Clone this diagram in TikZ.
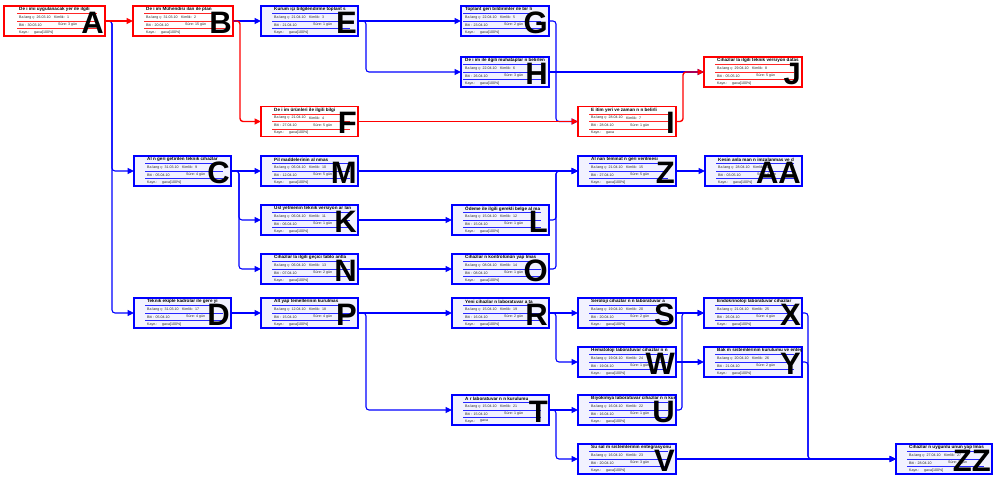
\documentclass[tikz,border=0pt]{standalone}
\usepackage{fontspec}
\setmainfont{Liberation Sans}
\usetikzlibrary{arrows.meta}

\tikzset{
  taskbox/.style={draw, minimum height=30pt, inner sep=0pt, outer sep=0pt, anchor=north west},
  redtask/.style={taskbox, draw=red, fill=white, line width=1.8pt},
  bluetask/.style={taskbox, draw=blue, fill=blue!5, line width=1.3pt},
  tasktitle/.style={anchor=west, inner sep=0pt, font=\fontsize{4.6}{5}\selectfont\bfseries, text=black},
  taskfield/.style={anchor=west, inner sep=0pt, font=\fontsize{3.6}{4}\selectfont, text=black!85},
  taskletter/.style={anchor=base east, inner sep=0pt, font=\fontsize{31}{31}\selectfont\bfseries, text=black},
  rowrule/.style={line width=1.2pt},
  link/.style={line width=1.1pt, rounded corners=3pt, -{Triangle[length=6.5pt,width=6pt]}},
  bluelink/.style={link, draw=blue},
  redlink/.style={link, draw=red, line width=1.4pt},
}

% #1 name, #2 box left, #3 content left, #4 top, #5 right, #6 colour (red/blue)
\newcommand\taskbox[6]{%
  \def\tcol{#6}%
  \node[#6task, minimum width={(#5-#2)*1pt}] (#1) at (#2,#4) {};
  \coordinate (#1-c) at (#3,#4);
}

% #1 name, #2 title, #3 start, #4 id, #5 end, #6 duration, #7 resource, #8 letter
\newcommand\taskinfo[8]{%
  \begin{scope}
    \clip ([shift={(1,1)}]#1.north west) rectangle ([shift={(-1,-1)}]#1.south east);
    \node[tasktitle] (#1-t) at ([shift={(13,3.8)}]#1-c) {#2};
  \end{scope}
  \foreach \dy in {7.6,15.1,22.6}
    \draw[rowrule, draw=\tcol!85] ([shift={(11,\dy)}]#1-c) -- ([shift={(-8,\dy)}]#1.north east);
  \node[taskfield] (#1-s) at ([shift={(13,11.4)}]#1-c) {Ba lang ç: #3};
  \node[taskfield] (#1-k) at ([shift={(48,11.4)}]#1-c) {Kimlik: \ #4};
  \node[taskfield] (#1-e) at ([shift={(13,18.9)}]#1-c) {Biti : #5};
  \node[taskfield] (#1-d) at ([shift={(52,18.9)}]#1-c) {Süre: #6};
  \node[taskfield] (#1-r) at ([shift={(13,26.2)}]#1-c) {Kayn.:};
  \node[taskfield] (#1-v) at ([shift={(28,26.2)}]#1-c) {#7};
  \node[taskletter] (#1-l) at ([shift={(-1,27)}]#1.north east) {#8};
}

\begin{document}
\begin{tikzpicture}[x=1pt,y=-1pt]
\useasboundingbox (0,0) rectangle (993,477);

% ---- tasks ----
\taskbox{A}{4}{6}{6}{105}{red}
\taskinfo{A}{De i imi uygulanacak yer ile ilgili}{26.03.10}{1}{30.03.10}{3 gün}{gaxa[100\%]}{A}
\taskbox{B}{133}{133}{6}{233}{red}
\taskinfo{B}{De i im Mühendisi  ilan  ile plan}{31.03.10}{2}{20.04.10}{15 gün}{gaxa[100\%]}{B}
\taskbox{E}{261}{261}{6}{358}{blue}
\taskinfo{E}{Kurum içi bilgilendirme toplant s }{21.04.10}{3}{21.04.10}{1 gün}{gaxa[100\%]}{E}
\taskbox{G}{461}{452}{6}{549}{blue}
\taskinfo{G}{Toplant  geri bildirimler ile bir li}{22.04.10}{5}{23.04.10}{2 gün}{gaxa[100\%]}{G}
\taskbox{H}{461}{452}{57}{549}{blue}
\taskinfo{H}{De i im ile ilgili muhataplar n belirlen}{22.04.10}{6}{26.04.10}{3 gün}{gaxa[100\%]}{H}
\taskbox{F}{261}{261}{106.5}{358}{red}
\taskinfo{F}{De i im ürünleri ile ilgili bilgi}{21.04.10}{4}{27.04.10}{5 gün}{gaxa[100\%]}{F}
\taskbox{I}{578}{578}{106.5}{676}{red}
\taskinfo{I}{E itim yeri ve zaman n n belirli}{28.04.10}{7}{28.04.10}{1 gün}{gaxa}{I}
\taskbox{J}{704}{704}{57}{802}{red}
\taskinfo{J}{Cihazlar la ilgili teknik versiyon datas }{29.04.10}{8}{05.05.10}{5 gün}{gaxa[100\%]}{J}

\taskbox{C}{134}{134}{156}{231}{blue}
\taskinfo{C}{Al n  geri getirilen teknik cihazlar}{31.03.10}{9}{05.04.10}{4 gün}{gaxa[100\%]}{C}
\taskbox{M}{261}{261}{156}{358}{blue}
\taskinfo{M}{Pil maddelerinin al nmas }{06.04.10}{10}{12.04.10}{5 gün}{gaxa[100\%]}{M}
\taskbox{K}{261}{261}{205}{358}{blue}
\taskinfo{K}{Usl yetmenin teknik versiyon ar  lan}{06.04.10}{11}{06.04.10}{1 gün}{gaxa[100\%]}{K}
\taskbox{N}{261}{261}{254}{358}{blue}
\taskinfo{N}{Cihazlar la ilgili geçici tablo antla }{06.04.10}{13}{07.04.10}{2 gün}{gaxa[100\%]}{N}
\taskbox{L}{452}{452}{205}{549}{blue}
\taskinfo{L}{Ödeme ile ilgili gerekli belge  al  ma}{15.04.10}{12}{15.04.10}{1 gün}{gaxa[100\%]}{L}
\taskbox{O}{452}{452}{254}{549}{blue}
\taskinfo{O}{Cihazlar n kontrolünün yap lmas }{08.04.10}{14}{08.04.10}{1 gün}{gaxa[100\%]}{O}
\taskbox{Z}{578}{578}{156}{676}{blue}
\taskinfo{Z}{Al nan teminat n geri verilmesi}{21.04.10}{15}{27.04.10}{5 gün}{gaxa[100\%]}{Z}
\taskbox{AA}{705}{705}{156}{802}{blue}
\taskinfo{AA}{Kesin anla man n imzalanmas  ve d}{28.04.10}{16}{03.05.10}{4 gün}{gaxa[100\%]}{AA}

\taskbox{D}{134}{134}{298}{231}{blue}
\taskinfo{D}{Teknik ekiple kadrolar  ile gere  yi}{31.03.10}{17}{05.04.10}{4 gün}{gaxa[100\%]}{D}
\taskbox{P}{261}{261}{298}{358}{blue}
\taskinfo{P}{Alt yap  temellerinin kurulmas }{12.04.10}{18}{15.04.10}{4 gün}{gaxa[100\%]}{P}
\taskbox{R}{452}{452}{298}{549}{blue}
\taskinfo{R}{Yeni cihazlar n laboratuvar a ta}{15.04.10}{19}{16.04.10}{2 gün}{gaxa[100\%]}{R}
\taskbox{S}{578}{578}{298}{676}{blue}
\taskinfo{S}{Seroloji cihazlar n n laboratuvar a}{19.04.10}{20}{20.04.10}{2 gün}{gaxa[100\%]}{S}
\taskbox{W}{578}{578}{347}{676}{blue}
\taskinfo{W}{Hematoloji laboratuvar  cihazlar n n}{19.04.10}{24}{19.04.10}{1 gün}{gaxa[100\%]}{W}
\taskbox{X}{704}{704}{298}{802}{blue}
\taskinfo{X}{Endokrinoloji laboratuvar  cihazlar}{21.04.10}{25}{26.04.10}{4 gün}{gaxa[100\%]}{X}
\taskbox{Y}{704}{704}{347}{802}{blue}
\taskinfo{Y}{Bak m sistemlerinin kurulumu ve entegre}{20.04.10}{26}{21.04.10}{2 gün}{gaxa[100\%]}{Y}
\taskbox{T}{452}{452}{395}{549}{blue}
\taskinfo{T}{A  r  laboratuvar n n kurulumu}{15.04.10}{21}{15.04.10}{1 gün}{gaxa}{T}
\taskbox{U}{578}{578}{395}{676}{blue}
\taskinfo{U}{Biyokimya laboratuvar  cihazlar n n kurulumu}{16.04.10}{22}{16.04.10}{1 gün}{gaxa[100\%]}{U}
\taskbox{V}{578}{578}{444}{676}{blue}
\taskinfo{V}{Su sal m  sistemlerinin entegrasyonu}{16.04.10}{23}{20.04.10}{3 gün}{gaxa[100\%]}{V}
\taskbox{ZZ}{896}{896}{444}{992}{blue}
\taskinfo{ZZ}{Cihazlar n uygunlu unun yap lmas }{27.04.10}{27}{28.04.10}{2 gün}{gaxa[100\%]}{ZZ}

% ---- dependencies ----
\draw[bluelink] (B.east) -- (E.west);
\draw[bluelink] (A.east) -- ++(7,0) |- (C.west);
\draw[bluelink] (A.east) -- ++(7,0) |- (D.west);
\draw[bluelink] (E.east) -- (G.west);
\draw[bluelink] (E.east) -- ++(8,0) |- (H.west);
\draw[bluelink] (G.east) -- ++(7,0) |- (I.west);
\draw[bluelink] (H.east) -- (J.west);
\draw[bluelink] (C.east) -- (M.west);
\draw[bluelink] (C.east) -- ++(8,0) |- (K.west);
\draw[bluelink] (C.east) -- ++(8,0) |- (N.west);
\draw[bluelink] (M.east) -- (Z.west);
\draw[bluelink] (K.east) -- (L.west);
\draw[bluelink] (N.east) -- (O.west);
\draw[bluelink] (L.east) -- ++(7,0) |- (Z.west);
\draw[bluelink] (O.east) -- ++(7,0) |- (Z.west);
\draw[bluelink] (Z.east) -- (AA.west);
\draw[bluelink] (D.east) -- (P.west);
\draw[bluelink] (P.east) -- (R.west);
\draw[bluelink] (P.east) -- ++(8,0) |- (T.west);
\draw[bluelink] (R.east) -- (S.west);
\draw[bluelink] (R.east) -- ++(7,0) |- (W.west);
\draw[bluelink] (S.east) -- (X.west);
\draw[bluelink] (W.east) -- (Y.west);
\draw[bluelink] (U.east) -- ++(6,0) |- (X.west);
\draw[bluelink] (T.east) -- (U.west);
\draw[bluelink] (T.east) -- ++(7,0) |- (V.west);
\draw[bluelink] (V.east) -- (ZZ.west);
\draw[bluelink] (X.east) -- ++(6,0) |- (ZZ.west);
\draw[bluelink] (Y.east) -- ++(6,0) |- (ZZ.west);

% critical path
\draw[redlink] (A.east) -- (B.west);
\draw[redlink] (B.east) -- ++(7,0) |- (F.west);
\draw[redlink] (F.east) -- (I.west);
\draw[redlink] (I.east) -- ++(7,0) |- (J.west);
\end{tikzpicture}
\end{document}
